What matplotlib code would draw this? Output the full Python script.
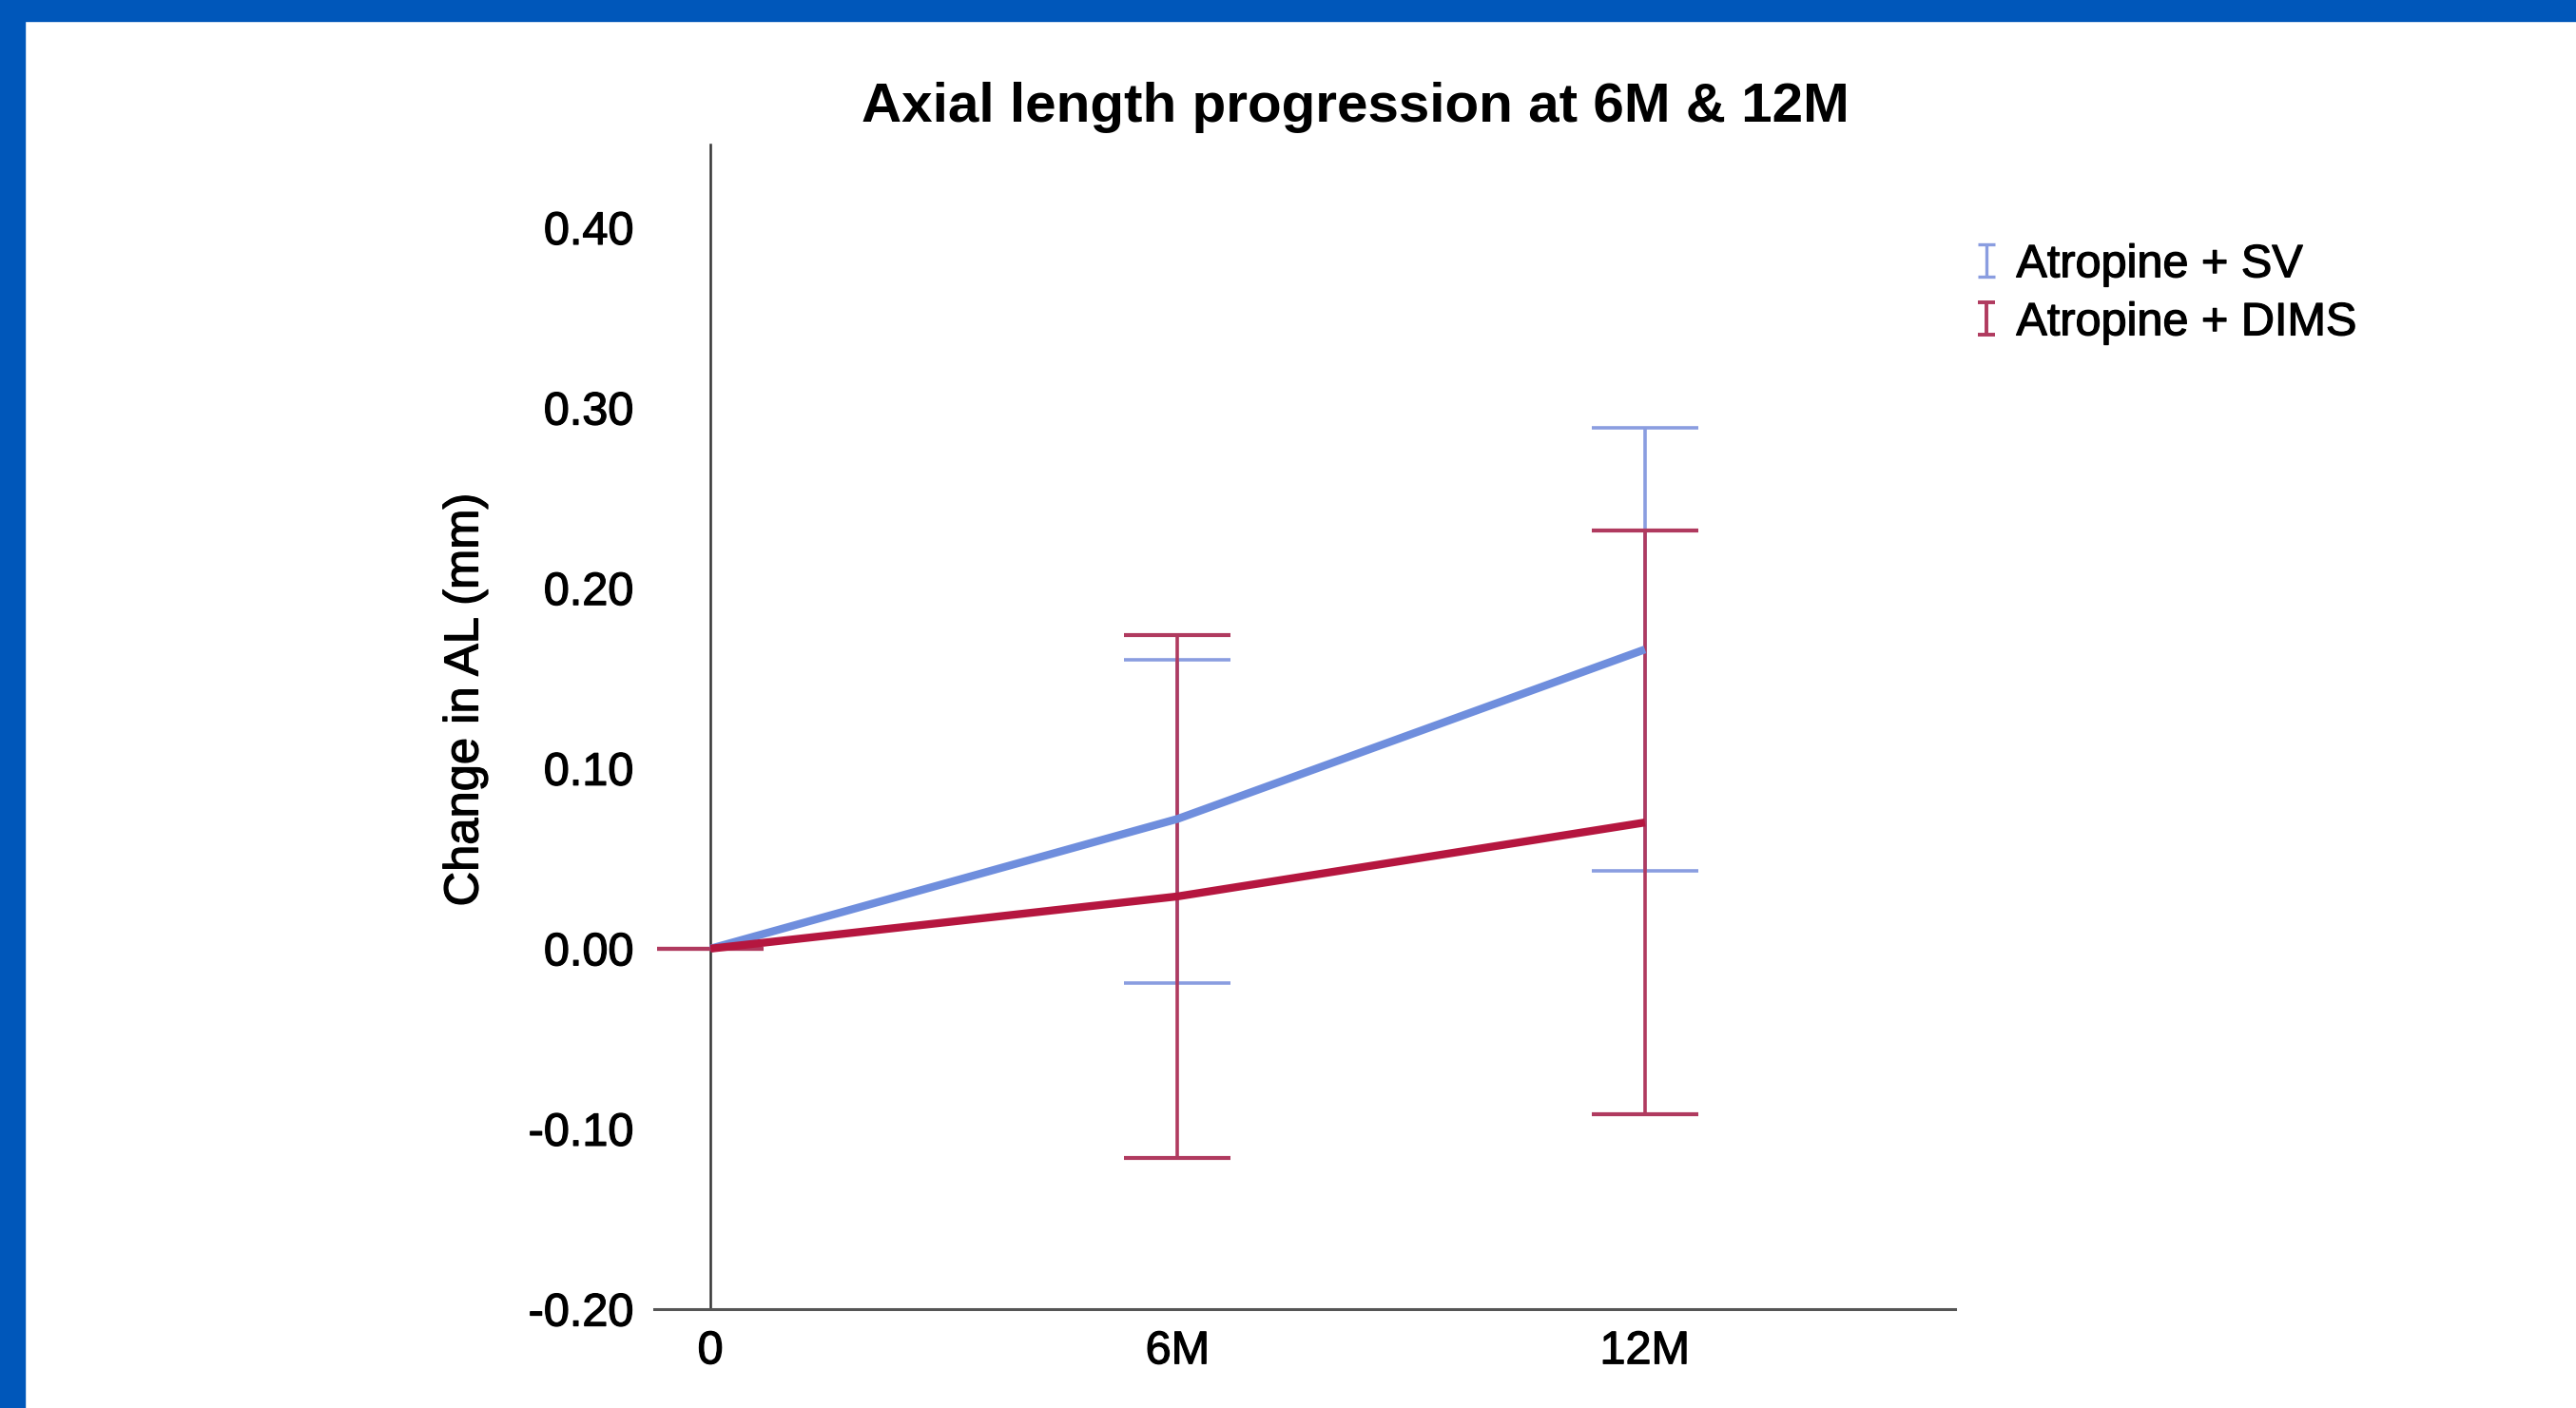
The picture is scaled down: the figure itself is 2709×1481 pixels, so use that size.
import matplotlib
matplotlib.use("Agg")
import matplotlib.pyplot as plt
import matplotlib.patheffects as pe
from matplotlib.lines import Line2D
from matplotlib.path import Path
from matplotlib.patches import Rectangle

# data
timepoints = ["0", "6M", "12M"]
sv_mean = [0.0, 0.072, 0.166]
sv_low = [0.0, -0.019, 0.043]
sv_high = [0.0, 0.160, 0.289]
dims_mean = [0.0, 0.029, 0.070]
dims_low = [0.0, -0.116, -0.092]
dims_high = [0.0, 0.174, 0.232]
yticks = [-0.20, -0.10, 0.00, 0.10, 0.20, 0.30, 0.40]

blue_line = "#6f8edd"
blue_err = "#8a9de0"
red_line = "#b5163f"
red_err = "#b03a5f"
frame_blue = "#0057ba"

plt.rcParams["font.family"] = ["Liberation Sans", "DejaVu Sans"]
# the screenshot text is a bit heavier than plain Arial
heavy = [pe.withStroke(linewidth=0.9, foreground="black")]

fig = plt.figure(figsize=(27.09, 14.81), dpi=100)
fig.patch.set_facecolor("white")
ax = fig.add_axes([0.254, 0.0702, 0.505, 0.827])

x = list(range(len(timepoints)))

ax.plot(x, sv_mean, color=blue_line, lw=6, zorder=4, solid_capstyle="butt")
ax.plot(x, dims_mean, color=red_line, lw=6, zorder=5, solid_capstyle="butt")

sv_err = [[m - l for m, l in zip(sv_mean, sv_low)], [h - m for m, h in zip(sv_mean, sv_high)]]
dims_err = [[m - l for m, l in zip(dims_mean, dims_low)], [h - m for m, h in zip(dims_mean, dims_high)]]
ax.errorbar(x, sv_mean, yerr=sv_err, fmt="none", ecolor=blue_err, elinewidth=2.6,
            capsize=40, capthick=2.6, zorder=2)
ax.errorbar(x, dims_mean, yerr=dims_err, fmt="none", ecolor=red_err, elinewidth=2.6,
            capsize=40, capthick=3.0, zorder=3)

# spine position first, it resets the ticks
ax.spines["left"].set_position(("data", 0))
for s in ["top", "right"]:
    ax.spines[s].set_visible(False)
ax.spines["left"].set_color("#333333")
ax.spines["left"].set_linewidth(1.8)
ax.spines["bottom"].set_color("#555555")
ax.spines["bottom"].set_linewidth(2.2)

ax.set_xlim(-0.12, 2.664)
ax.set_ylim(-0.2, 0.446)
ax.set_xticks(x)
ax.set_xticklabels(timepoints)
ax.set_yticks(yticks)
ax.set_yticklabels([f"{v:.2f}" for v in yticks])
ax.tick_params(axis="y", length=0, pad=58, labelsize=35)
ax.tick_params(axis="x", length=0, pad=16, labelsize=35)
for lab in ax.get_xticklabels() + ax.get_yticklabels():
    lab.set_path_effects(heavy)

fig.text(0.1805, 0.503, "Change in AL (mm)", rotation=90, ha="center", va="center",
         fontsize=36.5, path_effects=heavy)
fig.text(0.526, 0.924, "Axial length progression at 6M & 12M", ha="center", va="center",
         fontsize=42, fontweight="bold")

# little I-shaped legend icons like SPSS draws
ibar = Path([(-0.25, 0.5), (0.25, 0.5), (0, 0.5), (0, -0.5), (-0.25, -0.5), (0.25, -0.5)],
            [Path.MOVETO, Path.LINETO, Path.MOVETO, Path.LINETO, Path.MOVETO, Path.LINETO])
handles = [
    Line2D([], [], linestyle="none", marker=ibar, markersize=25, markeredgewidth=2.4,
           markeredgecolor=blue_err, fillstyle="none"),
    Line2D([], [], linestyle="none", marker=ibar, markersize=25, markeredgewidth=2.8,
           markeredgecolor=red_err, fillstyle="none"),
]
leg = fig.legend(handles, ["Atropine + SV", "Atropine + DIMS"], loc="upper left",
                 bbox_to_anchor=(0.7585, 0.84), frameon=False, fontsize=35,
                 handlelength=0.6, handletextpad=0.35, labelspacing=0.33, borderaxespad=0)
for t in leg.get_texts():
    t.set_path_effects(heavy)

# blue frame strips on top and left
fig.patches.append(Rectangle((0, 1 - 22 / 1481), 1, 22 / 1481, transform=fig.transFigure,
                             color=frame_blue, zorder=10))
fig.patches.append(Rectangle((0, 0), 26 / 2709, 1, transform=fig.transFigure,
                             color=frame_blue, zorder=10))

fig.savefig("out.png", dpi=100)
